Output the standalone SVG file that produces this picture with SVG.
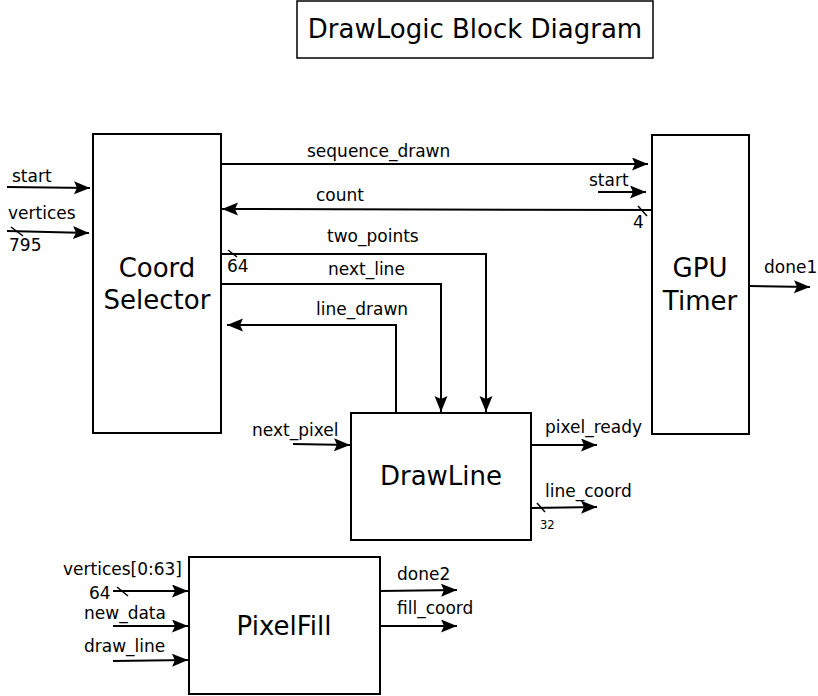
<svg xmlns="http://www.w3.org/2000/svg" width="818" height="696" viewBox="0 0 818 696">
<defs>
<marker id="ah" markerUnits="userSpaceOnUse" markerWidth="18" markerHeight="15" refX="16" refY="6.5" orient="auto">
<path d="M0,0 L16,6.5 L0,13 L3,6.5 z" fill="#000"/>
</marker>
<style>
.box{fill:#fff;stroke:#000;stroke-width:2}
.big{font-family:"DejaVu Sans",sans-serif;font-size:26px;fill:#000;text-anchor:middle}
.lbl{font-family:"DejaVu Sans",sans-serif;font-size:17px;fill:#000}
.sm{font-family:"DejaVu Sans",sans-serif;font-size:11.5px;fill:#000}
.a{fill:none;stroke:#000;stroke-width:2;marker-end:url(#ah)}
.sl{stroke:#000;stroke-width:1.5}
</style>
</defs>
<rect width="818" height="696" fill="#fff"/>
<g id="title">
<rect x="297" y="1" width="356" height="57" fill="#fff" stroke="#000" stroke-width="1.5"/>
<text class="big" x="475" y="37.5">DrawLogic Block Diagram</text>
</g>
<g id="coord-selector">
<rect class="box" x="93" y="134" width="128" height="299"/>
<text class="big" x="157" y="277">Coord</text>
<text class="big" x="157" y="309">Selector</text>
</g>
<g id="gpu-timer">
<rect class="box" x="652" y="135" width="97" height="299"/>
<text class="big" x="700" y="277">GPU</text>
<text class="big" x="700" y="310">Timer</text>
</g>
<g id="drawline">
<rect class="box" x="351" y="413" width="180" height="127"/>
<text class="big" x="441" y="485">DrawLine</text>
</g>
<g id="pixelfill">
<rect class="box" x="189" y="557" width="191" height="137"/>
<text class="big" x="284" y="635">PixelFill</text>
</g>
<g id="connectors">
<path class="a" d="M7,187 L90,188"/>
<text class="lbl" x="12" y="181.5">start</text>
<path class="a" d="M7,231 L89,233"/>
<line class="sl" x1="11" y1="227" x2="23" y2="236"/>
<text class="lbl" x="8" y="219">vertices</text>
<text class="lbl" x="9" y="251">795</text>
<path class="a" d="M221,164 L648,164"/>
<text class="lbl" x="307" y="156.5">sequence_drawn</text>
<path class="a" d="M598,192 L646,192"/>
<text class="lbl" x="589" y="186">start</text>
<path class="a" d="M652,210 L222,209"/>
<line class="sl" x1="638" y1="206" x2="647" y2="216"/>
<text class="lbl" x="316" y="201">count</text>
<text class="lbl" x="633" y="228">4</text>
<path class="a" d="M221,254 L486,254 L486,412"/>
<line class="sl" x1="228" y1="250" x2="237" y2="257"/>
<text class="lbl" x="227" y="272">64</text>
<text class="lbl" x="327" y="242">two_points</text>
<path class="a" d="M221,284 L441,284 L441,412"/>
<text class="lbl" x="328" y="275">next_line</text>
<path class="a" d="M396,413 L396,325 L227,325"/>
<text class="lbl" x="316" y="315">line_drawn</text>
<path class="a" d="M293,444 L350,445"/>
<text class="lbl" x="252" y="436">next_pixel</text>
<path class="a" d="M531,445 L597,445"/>
<text class="lbl" x="545" y="433">pixel_ready</text>
<path class="a" d="M531,508 L597,507"/>
<line class="sl" x1="537" y1="503" x2="545" y2="512"/>
<text class="sm" x="540" y="529">32</text>
<text class="lbl" x="545" y="497">line_coord</text>
<path class="a" d="M749,286 L810,287"/>
<text class="lbl" x="764" y="273">done1</text>
<path class="a" d="M113,591 L188,591"/>
<line class="sl" x1="117" y1="587" x2="128" y2="596"/>
<text class="lbl" x="63" y="575">vertices[0:63]</text>
<text class="lbl" x="89" y="599">64</text>
<path class="a" d="M113,626 L188,626"/>
<text class="lbl" x="84" y="618.5">new_data</text>
<path class="a" d="M113,661 L188,660"/>
<text class="lbl" x="84" y="652">draw_line</text>
<path class="a" d="M380,591 L457,590"/>
<text class="lbl" x="397" y="580">done2</text>
<path class="a" d="M380,626 L457,626"/>
<text class="lbl" x="397" y="614">fill_coord</text>
</g>
</svg>
